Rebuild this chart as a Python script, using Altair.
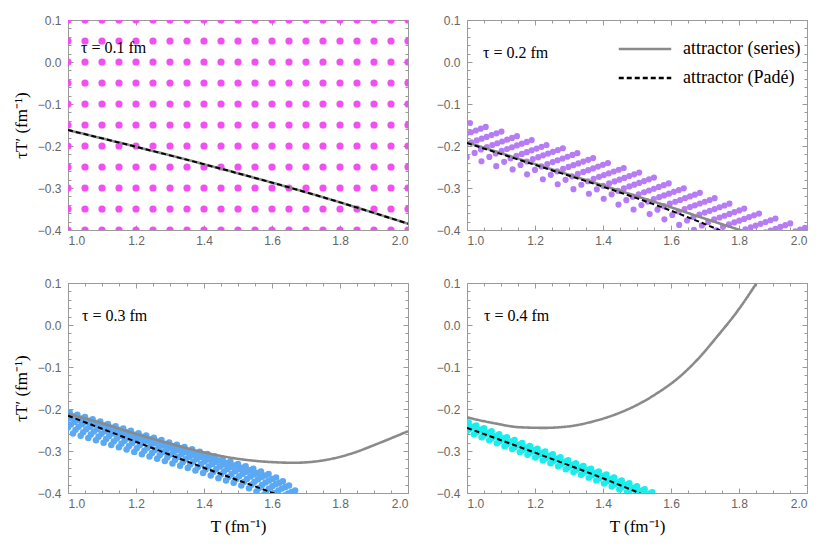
import altair as alt
import pandas as pd

W, H = 340, 210
FRAME = "#9a9a9a"
SERIF = "Liberation Serif"

# ---- axis ticks -------------------------------------------------------
X_MAJOR = [1.0, 1.2, 1.4, 1.6, 1.8, 2.0]
X_MINOR = [1.05, 1.10, 1.15, 1.25, 1.30, 1.35, 1.45, 1.50, 1.55,
           1.65, 1.70, 1.75, 1.85, 1.90, 1.95]
Y_MAJOR = [-0.4, -0.3, -0.2, -0.1, 0.0, 0.1]
Y_MINOR = [-0.38, -0.36, -0.34, -0.32, -0.28, -0.26, -0.24, -0.22,
           -0.18, -0.16, -0.14, -0.12, -0.08, -0.06, -0.04, -0.02,
           0.02, 0.04, 0.06, 0.08]

PANEL_LABELS = ["τ = 0.1 fm", "τ = 0.2 fm", "τ = 0.3 fm", "τ = 0.4 fm"]
CURVES = ["attractor (series)", "attractor (Padé)"]
POINT_COLORS = ["#f24ff2", "#b67cf6", "#5ba8f3", "#19eeee"]

# ---- panel 1: initial grid of points ---------------------------------
GRID_T = [1.00, 1.05, 1.10, 1.15, 1.20, 1.25, 1.30, 1.35, 1.40, 1.45, 1.50,
          1.55, 1.60, 1.65, 1.70, 1.75, 1.80, 1.85, 1.90, 1.95, 2.00]
GRID_Y = [-0.40, -0.35, -0.30, -0.25, -0.20, -0.15, -0.10, -0.05, 0.00, 0.05, 0.10]

# ---- panel 2: streaks (head of each streak + shape of streak) --------
P2_HEAD_T = [1.0087, 1.0551, 1.1014, 1.1470, 1.1904, 1.2339, 1.2820, 1.3246,
             1.3710, 1.4145, 1.4609, 1.5064, 1.5499, 1.5933, 1.6377, 1.6849,
             1.7284, 1.7719, 1.8154, 1.8588, 1.9072, 1.9507, 1.9942]
P2_HEAD_Y = [-0.1452, -0.1546, -0.1656, -0.1766, -0.1860, -0.1977, -0.2054, -0.2171,
             -0.2288, -0.2406, -0.2523, -0.2633, -0.2751, -0.2891, -0.3008, -0.3116,
             -0.3243, -0.3374, -0.3491, -0.3609, -0.3726, -0.3843, -0.3946]
P2_TAIL_DT = [0, -0.0145, -0.0290, -0.0435, -0.0580, -0.0725, -0.0884, -0.1058, -0.1246, -0.1478]
P2_TAIL_DY = [0, -0.0042, -0.0084, -0.0127, -0.0169, -0.0211, -0.0258, -0.0316, -0.0399, -0.0504]

# ---- panel 3 ------------------------------------------------------------
P3_HEAD_T = [1.005, 1.0275, 1.050, 1.0725, 1.095, 1.1175, 1.140, 1.1625, 1.185,
             1.2075, 1.230, 1.2525, 1.275, 1.2975, 1.320, 1.3425, 1.365, 1.3875,
             1.410, 1.4325, 1.455, 1.4775, 1.500, 1.5225, 1.545, 1.5675, 1.590,
             1.612, 1.632, 1.650, 1.668]
P3_HEAD_Y = [-0.208, -0.2135, -0.219, -0.2245, -0.230, -0.2355, -0.241, -0.2465, -0.252,
             -0.2575, -0.263, -0.2685, -0.274, -0.2795, -0.285, -0.2905, -0.296, -0.3015,
             -0.307, -0.313, -0.319, -0.325, -0.331, -0.3365, -0.342, -0.3485, -0.355,
             -0.363, -0.372, -0.382, -0.394]
P3_TAIL_DT = [0, -0.0104, -0.0207, -0.0311, -0.0414, -0.0503, -0.0577]
P3_TAIL_DY = [0, -0.0036, -0.0072, -0.0120, -0.0180, -0.0252, -0.0336]

# ---- panel 4 ------------------------------------------------------------
P4_HEAD_T = [1.005, 1.0275, 1.050, 1.0725, 1.095, 1.1175, 1.140, 1.1625, 1.185,
             1.2075, 1.230, 1.2525, 1.275, 1.2975, 1.320, 1.3425, 1.365, 1.3875,
             1.410, 1.4325, 1.455, 1.4775, 1.500, 1.5225, 1.545]
P4_HEAD_Y = [-0.232, -0.239, -0.246, -0.253, -0.260, -0.267, -0.274, -0.281, -0.288,
             -0.2945, -0.301, -0.308, -0.315, -0.322, -0.329, -0.3355, -0.342, -0.349,
             -0.356, -0.363, -0.370, -0.377, -0.384, -0.391, -0.398]
P4_TAIL_DT = [0, -0.0074, -0.0147, -0.0221, -0.0295]
P4_TAIL_DY = [0, -0.0029, -0.0060, -0.0096, -0.0144]

# ---- attractor curves -------------------------------------------------
P1_SERIES_T = [1.0, 1.25, 1.5, 1.75, 2.0]
P1_SERIES_Y = [-0.162, -0.212, -0.265, -0.322, -0.385]
P1_PADE_T = [1.0, 1.25, 1.5, 1.75, 2.0]
P1_PADE_Y = [-0.162, -0.212, -0.265, -0.322, -0.385]

P2_SERIES_T = [1.0, 1.2, 1.4, 1.6, 1.7, 1.81]
P2_SERIES_Y = [-0.191, -0.243, -0.294, -0.346, -0.373, -0.402]
P2_PADE_T = [1.0, 1.2, 1.4, 1.6, 1.7, 1.745]
P2_PADE_Y = [-0.193, -0.245, -0.297, -0.354, -0.386, -0.401]

P3_SERIES_T = [1.0, 1.092, 1.19, 1.289, 1.388, 1.487, 1.585, 1.664, 1.743, 1.832, 1.911, 2.0]
P3_SERIES_Y = [-0.212, -0.232, -0.257, -0.280, -0.301, -0.317, -0.3257, -0.328,
               -0.3233, -0.3065, -0.2825, -0.2529]
P3_PADE_T = [1.0, 1.2, 1.4, 1.6, 1.62]
P3_PADE_Y = [-0.216, -0.278, -0.340, -0.399, -0.405]

P4_SERIES_T = [1.0, 1.084, 1.152, 1.226, 1.30, 1.374, 1.4425, 1.5015, 1.5605, 1.6195,
               1.6785, 1.7375, 1.7965, 1.8505]
P4_SERIES_Y = [-0.220, -0.2345, -0.2433, -0.2449, -0.2413, -0.2290, -0.2110, -0.1897,
               -0.1617, -0.1273, -0.0817, -0.0257, 0.0343, 0.0983]
P4_PADE_T = [1.0, 1.2, 1.4, 1.51]
P4_PADE_Y = [-0.245, -0.304, -0.365, -0.401]


def streaks(head_t, head_y, tail_dt, tail_dy):
    rows = []
    for t0, y0 in zip(head_t, head_y):
        for dt, dy in zip(tail_dt, tail_dy):
            rows.append({"T": t0 + dt, "y": y0 + dy})
    return pd.DataFrame(rows)


P1_POINTS = pd.DataFrame([{"T": t, "y": y} for t in GRID_T for y in GRID_Y])
P2_POINTS = streaks(P2_HEAD_T, P2_HEAD_Y, P2_TAIL_DT, P2_TAIL_DY)
P3_POINTS = streaks(P3_HEAD_T, P3_HEAD_Y, P3_TAIL_DT, P3_TAIL_DY)
P4_POINTS = streaks(P4_HEAD_T, P4_HEAD_Y, P4_TAIL_DT, P4_TAIL_DY)

XS = alt.Scale(domain=[1.0, 2.0], nice=False, zero=False)
YS = alt.Scale(domain=[-0.4, 0.1], nice=False, zero=False)


def tick_axis(orient, offset, values, size):
    return alt.Axis(orient=orient, offset=offset, values=values, labels=False,
                    ticks=True, tickSize=size, tickColor=FRAME, tickWidth=1,
                    domain=False, grid=False, title=None)


def panel(i, pts, s_t, s_y, p_t, p_y, x_title, y_title, legend, lab_x, lab_y, psize):
    s_df = pd.DataFrame({"T": s_t, "y": s_y, "curve": CURVES[0]})
    p_df = pd.DataFrame({"T": p_t, "y": p_y, "curve": CURVES[1]})

    x_lab = alt.Axis(orient="bottom", values=X_MAJOR, format=".1f", ticks=False,
                     tickSize=0, domain=False, grid=False, labelPadding=5,
                     title=x_title, titlePadding=9)
    y_lab = alt.Axis(orient="left", values=Y_MAJOR, format=".1f", ticks=False,
                     tickSize=0, domain=False, grid=False, labelPadding=7,
                     title=y_title, titlePadding=7)

    color = alt.Color("curve:N", scale=alt.Scale(domain=CURVES, range=["#8a8a8a", "#000000"]),
                      legend=legend)
    dash = alt.StrokeDash("curve:N", scale=alt.Scale(domain=CURVES, range=[[1, 0], [5, 3]]),
                          legend=legend)

    points = alt.Chart(pts).mark_circle(size=psize, opacity=1, color=POINT_COLORS[i],
                                        clip=True).encode(
        x=alt.X("T:Q", scale=XS, axis=x_lab),
        y=alt.Y("y:Q", scale=YS, axis=y_lab),
    )
    m1 = alt.Chart(s_df).mark_line(opacity=0).encode(
        x=alt.X("T:Q", scale=XS, axis=tick_axis("top", -H, X_MINOR, 3)),
        y=alt.Y("y:Q", scale=YS, axis=tick_axis("right", -W, Y_MINOR, 3)),
    )
    m2 = alt.Chart(s_df).mark_line(opacity=0).encode(
        x=alt.X("T:Q", scale=XS, axis=tick_axis("bottom", -H, X_MINOR, 3)),
        y=alt.Y("y:Q", scale=YS, axis=tick_axis("left", -W, Y_MINOR, 3)),
    )
    ser = alt.Chart(s_df).mark_line(strokeWidth=2.6, clip=True, interpolate="monotone").encode(
        x=alt.X("T:Q", scale=XS, axis=tick_axis("top", -H, X_MAJOR, 5)),
        y=alt.Y("y:Q", scale=YS, axis=tick_axis("right", -W, Y_MAJOR, 5)),
        color=color, strokeDash=dash,
    )
    pad = alt.Chart(p_df).mark_line(strokeWidth=2, clip=True, interpolate="monotone").encode(
        x=alt.X("T:Q", scale=XS, axis=tick_axis("bottom", -H, X_MAJOR, 5)),
        y=alt.Y("y:Q", scale=YS, axis=tick_axis("left", -W, Y_MAJOR, 5)),
        color=color, strokeDash=dash,
    )
    txt = alt.Chart(pd.DataFrame({"label": [PANEL_LABELS[i]]})).mark_text(
        align="left", baseline="middle", font=SERIF, fontSize=16, color="black"
    ).encode(x=alt.value(lab_x), y=alt.value(lab_y), text="label:N")

    return alt.layer(points, m1, m2, ser, pad, txt).resolve_axis(
        x="independent", y="independent").properties(width=W, height=H)


LEGEND = alt.Legend(orient="none", legendX=166, legendY=17, title=None,
                    symbolType="M-2.5,0H2.5", symbolSize=441, symbolStrokeWidth=2.5,
                    labelFont=SERIF, labelFontSize=18, labelColor="black",
                    labelOffset=26, rowPadding=8, padding=0)

YT = "τT′ (fm⁻¹)"
XT = "T (fm⁻¹)"

p1 = panel(0, P1_POINTS, P1_SERIES_T, P1_SERIES_Y, P1_PADE_T, P1_PADE_Y,
           None, YT, None, 13, 28, 52)
p2 = panel(1, P2_POINTS, P2_SERIES_T, P2_SERIES_Y, P2_PADE_T, P2_PADE_Y,
           None, None, LEGEND, 16, 33, 38)
p3 = panel(2, P3_POINTS, P3_SERIES_T, P3_SERIES_Y, P3_PADE_T, P3_PADE_Y,
           XT, YT, None, 14, 33, 42)
p4 = panel(3, P4_POINTS, P4_SERIES_T, P4_SERIES_Y, P4_PADE_T, P4_PADE_Y,
           XT, None, None, 17, 33, 42)

chart = alt.concat(p1, p2, p3, p4, columns=2, spacing={"row": 53, "column": 59},
                   bounds="flush").resolve_scale(
    color="independent", strokeDash="independent"
).properties(
    padding={"left": 3, "top": 5, "right": 2, "bottom": 2}, background="white"
).configure_view(
    stroke=FRAME, strokeWidth=1
).configure_axis(
    labelFont="Liberation Sans", labelFontSize=12, labelColor="#666666",
    titleFont=SERIF, titleFontSize=17, titleFontWeight="normal",
    titleColor="black"
)

chart.save("out.html", embed_options={"renderer": "svg", "actions": False})
